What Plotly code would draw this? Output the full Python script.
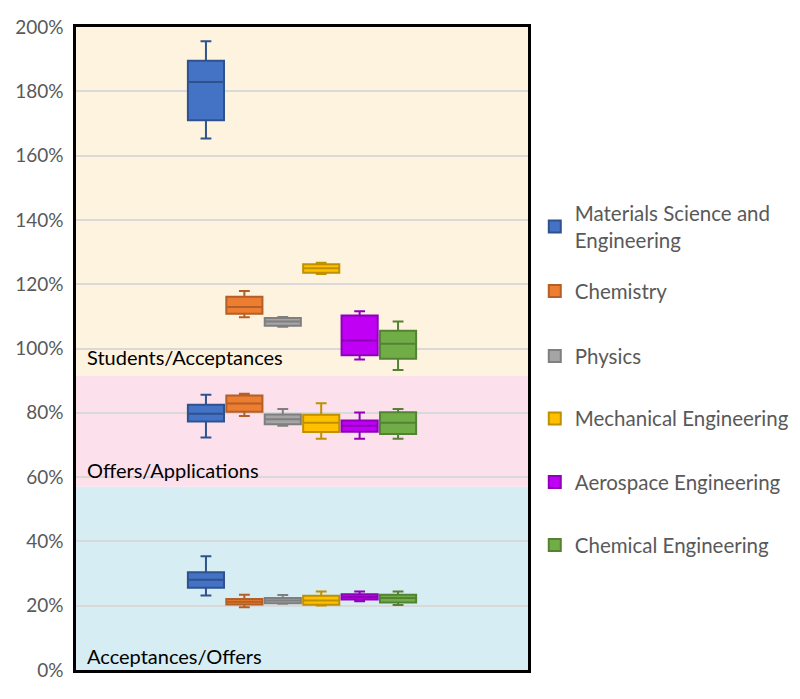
import plotly.graph_objects as go

# ---- data (fractions; three ratio groups per department) ----
departments = ["Materials Science and<br>Engineering", "Chemistry", "Physics",
               "Mechanical Engineering", "Aerospace Engineering", "Chemical Engineering"]
ratios = ["Students/Acceptances", "Offers/Applications", "Acceptances/Offers"]

# order within each list: Students/Acceptances, Offers/Applications, Acceptances/Offers
lower = {
    "Materials Science and<br>Engineering": [1.653, 0.723, 0.232],
    "Chemistry": [1.097, 0.790, 0.195],
    "Physics": [1.068, 0.760, 0.206],
    "Mechanical Engineering": [1.232, 0.719, 0.201],
    "Aerospace Engineering": [0.966, 0.719, 0.214],
    "Chemical Engineering": [0.933, 0.719, 0.202],
}
q1 = {
    "Materials Science and<br>Engineering": [1.710, 0.773, 0.256],
    "Chemistry": [1.108, 0.803, 0.204],
    "Physics": [1.071, 0.764, 0.208],
    "Mechanical Engineering": [1.236, 0.740, 0.203],
    "Aerospace Engineering": [0.979, 0.741, 0.219],
    "Chemical Engineering": [0.968, 0.734, 0.210],
}
median = {
    "Materials Science and<br>Engineering": [1.829, 0.797, 0.281],
    "Chemistry": [1.129, 0.829, 0.212],
    "Physics": [1.084, 0.780, 0.216],
    "Mechanical Engineering": [1.250, 0.769, 0.216],
    "Aerospace Engineering": [1.025, 0.760, 0.227],
    "Chemical Engineering": [1.015, 0.769, 0.224],
}
q3 = {
    "Materials Science and<br>Engineering": [1.895, 0.825, 0.304],
    "Chemistry": [1.161, 0.854, 0.221],
    "Physics": [1.095, 0.795, 0.224],
    "Mechanical Engineering": [1.262, 0.794, 0.231],
    "Aerospace Engineering": [1.103, 0.776, 0.236],
    "Chemical Engineering": [1.055, 0.802, 0.234],
}
upper = {
    "Materials Science and<br>Engineering": [1.956, 0.856, 0.354],
    "Chemistry": [1.179, 0.859, 0.234],
    "Physics": [1.098, 0.812, 0.233],
    "Mechanical Engineering": [1.267, 0.830, 0.244],
    "Aerospace Engineering": [1.116, 0.801, 0.244],
    "Chemical Engineering": [1.084, 0.812, 0.244],
}
fill_colors = ["#4472C4", "#ED7D31", "#A5A5A5", "#FFC000", "#C000F5", "#70AD47"]
line_colors = ["#2F528F", "#B45F25", "#7F7F7F", "#BF9000", "#8F00B8", "#548235"]

band_edges = [0.0, 0.57, 0.916, 2.0]
band_colors = ["#D6EDF3", "#FCE0EC", "#FEF3DF"]
band_labels = ["Acceptances/Offers", "Offers/Applications", "Students/Acceptances"]
band_label_y = [0.043, 0.621, 0.974]

tick_vals = [0, 0.2, 0.4, 0.6, 0.8, 1.0, 1.2, 1.4, 1.6, 1.8, 2.0]

# legend item vertical centres (paper coordinates)
legend_y = [0.689, 0.589, 0.488, 0.391, 0.292, 0.194]

fig = go.Figure()
legend_layout = {}
for i, d in enumerate(departments):
    lname = "legend" if i == 0 else f"legend{i + 1}"
    fig.add_trace(go.Box(
        name=d,
        x=["all"] * len(ratios),
        q1=q1[d], median=median[d], q3=q3[d],
        lowerfence=lower[d], upperfence=upper[d],
        fillcolor=fill_colors[i],
        line=dict(color=line_colors[i], width=2),
        whiskerwidth=0.3,
        offsetgroup=d,
        legend=lname,
        hoverinfo="skip",
    ))
    legend_layout[lname] = dict(
        x=1.015, y=legend_y[i], xanchor="left", yanchor="middle",
        font=dict(family="Lato", size=20.5, color="#595959"),
        bgcolor="rgba(0,0,0,0)", borderwidth=0,
    )

shapes = []
for j in range(3):
    shapes.append(dict(type="rect", xref="paper", yref="y", x0=0, x1=1,
                       y0=band_edges[j], y1=band_edges[j + 1],
                       fillcolor=band_colors[j], line=dict(width=0), layer="below"))
annotations = []
for j in range(3):
    annotations.append(dict(text=band_labels[j], xref="paper", yref="y",
                            x=0.019, y=band_label_y[j], xanchor="left", yanchor="middle",
                            showarrow=False, font=dict(family="Lato", size=20, color="black")))

# the page body adds an 8px offset, so the figure is 792x691
fig.update_layout(
    width=792, height=691,
    margin=dict(l=68, r=272, t=19, b=29, autoexpand=False),
    paper_bgcolor="white",
    plot_bgcolor="white",
    boxmode="group",
    boxgap=0.49,
    boxgroupgap=0.06,
    shapes=shapes,
    annotations=annotations,
    showlegend=True,
    font=dict(family="Lato"),
    **legend_layout,
)
fig.update_xaxes(showticklabels=False, showgrid=False, zeroline=False,
                 showline=True, mirror=True, linecolor="black", linewidth=2.5,
                 ticks="", automargin=False)
fig.update_yaxes(range=[0, 2.0], tickvals=tick_vals, tickformat=".0%",
                 showgrid=True, gridcolor="#D9D9D9", gridwidth=1.5, zeroline=False,
                 showline=True, mirror=True, linecolor="black", linewidth=2.5,
                 ticks="", ticklabelstandoff=6, automargin=False,
                 tickfont=dict(family="Lato", size=19, color="#595959"))

fig.write_html("out.html")
